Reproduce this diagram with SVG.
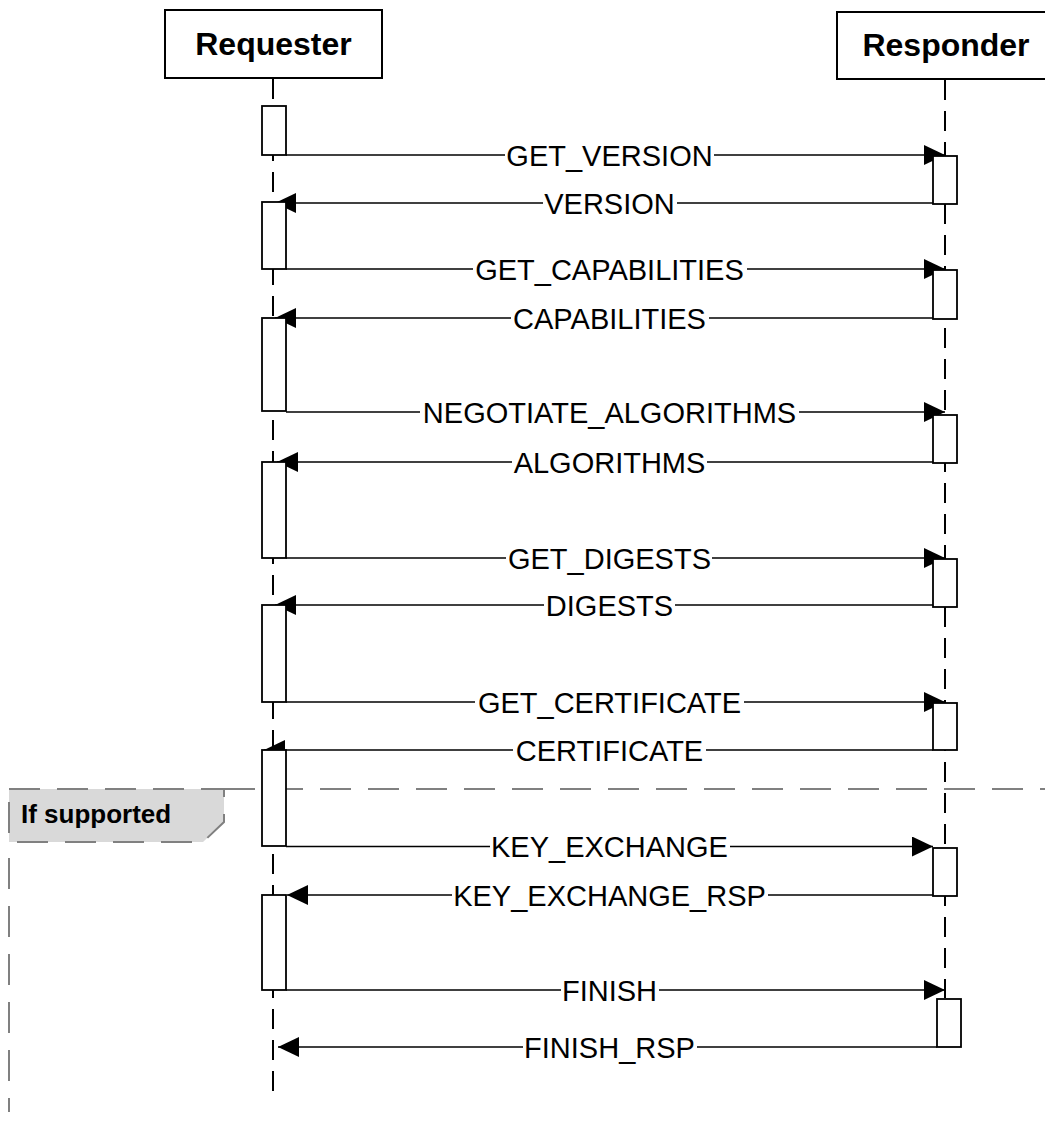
<svg xmlns="http://www.w3.org/2000/svg" width="1045" height="1121" viewBox="0 0 1045 1121">
<style>
.actor{fill:#fff;stroke:#000;stroke-width:2}
.atext{font-family:"Liberation Sans",Arial,sans-serif;font-weight:bold;font-size:32px;text-anchor:middle;fill:#000}
.life{stroke:#000;stroke-width:2;stroke-dasharray:20 11;fill:none}
.act{fill:#fff;stroke:#000;stroke-width:1.8}
.msg{stroke:#000;stroke-width:1.7;fill:none;marker-end:url(#ah)}
.lbg{fill:#fff}
.ltext{font-family:"Liberation Sans",Arial,sans-serif;font-size:29px;text-anchor:middle;fill:#000}
.sep{stroke:#808080;stroke-width:2;stroke-dasharray:31 17;fill:none}
.ftext{font-family:"Liberation Sans",Arial,sans-serif;font-weight:bold;font-size:26px;fill:#000}
</style>
<defs>
<marker id="ah" viewBox="0 0 21 20" refX="21" refY="10" markerWidth="21" markerHeight="20" markerUnits="userSpaceOnUse" orient="auto">
<path d="M0,0 L21,10 L0,20 z" fill="#000"/>
</marker>
</defs>

<g id="fragment">
<path d="M224,789 H1045" class="sep"/>
<polygon points="9,789 224,789 224,822 203,842 9,842" fill="#d9d9d9" stroke="#808080" stroke-width="2" stroke-dasharray="31 17"/>
<path d="M9,858 V1112" class="sep"/>
<text x="21" y="823" class="ftext">If supported</text>
</g>

<g id="requester">
<rect x="165" y="10" width="217" height="68" class="actor"/>
<text x="273.5" y="55" class="atext">Requester</text>
<path d="M273,79 V1102" class="life"/>
</g>

<g id="responder">
<rect x="837" y="12" width="216" height="67" class="actor"/>
<text x="946" y="56" class="atext">Responder</text>
<path d="M945,80 V998" class="life"/>
</g>

<g id="connectors">
<path d="M286,155 H945" class="msg"/>
<rect x="505" y="143" width="209" height="24" class="lbg"/>
<text x="609.5" y="165.5" class="ltext">GET_VERSION</text>

<path d="M933,203 H275" class="msg"/>
<rect x="543" y="191" width="134" height="24" class="lbg"/>
<text x="609.5" y="213.5" class="ltext">VERSION</text>

<path d="M286,269 H945" class="msg"/>
<rect x="473" y="257" width="274" height="24" class="lbg"/>
<text x="609.5" y="279.5" class="ltext">GET_CAPABILITIES</text>

<path d="M933,318 H275" class="msg"/>
<rect x="511" y="306" width="198" height="24" class="lbg"/>
<text x="609.5" y="328.5" class="ltext">CAPABILITIES</text>

<path d="M286,412 H945" class="msg"/>
<rect x="420" y="400" width="379" height="24" class="lbg"/>
<text x="609.5" y="422.5" class="ltext">NEGOTIATE_ALGORITHMS</text>

<path d="M933,462 H277" class="msg"/>
<rect x="512" y="450" width="195" height="24" class="lbg"/>
<text x="609.5" y="472.5" class="ltext">ALGORITHMS</text>

<path d="M286,558 H945" class="msg"/>
<rect x="506" y="546" width="206" height="24" class="lbg"/>
<text x="609.5" y="568.5" class="ltext">GET_DIGESTS</text>

<path d="M933,605 H275" class="msg"/>
<rect x="544" y="593" width="131" height="24" class="lbg"/>
<text x="609.5" y="615.5" class="ltext">DIGESTS</text>

<path d="M286,702 H945" class="msg"/>
<rect x="475" y="690" width="269" height="24" class="lbg"/>
<text x="609.5" y="712.5" class="ltext">GET_CERTIFICATE</text>

<path d="M933,750 H264" class="msg"/>
<rect x="513" y="738" width="193" height="24" class="lbg"/>
<text x="609.5" y="760.5" class="ltext">CERTIFICATE</text>

<path d="M286,846.5 H933" class="msg"/>
<rect x="490" y="834" width="240" height="24" class="lbg"/>
<text x="609.5" y="857" class="ltext">KEY_EXCHANGE</text>

<path d="M933,895 H287" class="msg"/>
<rect x="452" y="883" width="316" height="24" class="lbg"/>
<text x="609.5" y="905.5" class="ltext">KEY_EXCHANGE_RSP</text>

<path d="M286,990 H945" class="msg"/>
<rect x="561" y="978" width="98" height="24" class="lbg"/>
<text x="609.5" y="1000.5" class="ltext">FINISH</text>

<path d="M937,1047 H278" class="msg"/>
<rect x="523" y="1035" width="174" height="24" class="lbg"/>
<text x="609.5" y="1057.5" class="ltext">FINISH_RSP</text>
</g>

<g id="activations">
<rect x="262" y="106" width="24" height="49" class="act"/>
<rect x="262" y="202" width="24" height="67" class="act"/>
<rect x="262" y="318" width="24" height="93" class="act"/>
<rect x="262" y="462" width="24" height="96" class="act"/>
<rect x="262" y="605" width="24" height="97" class="act"/>
<rect x="262" y="750" width="24" height="96" class="act"/>
<rect x="262" y="895" width="24" height="95" class="act"/>

<rect x="933" y="156" width="24" height="48" class="act"/>
<rect x="933" y="270" width="24" height="49" class="act"/>
<rect x="933" y="415" width="24" height="48" class="act"/>
<rect x="933" y="559" width="24" height="48" class="act"/>
<rect x="933" y="703" width="24" height="47" class="act"/>
<rect x="933" y="848" width="24" height="48" class="act"/>
<rect x="937" y="999" width="24" height="48" class="act"/>
</g>
</svg>
